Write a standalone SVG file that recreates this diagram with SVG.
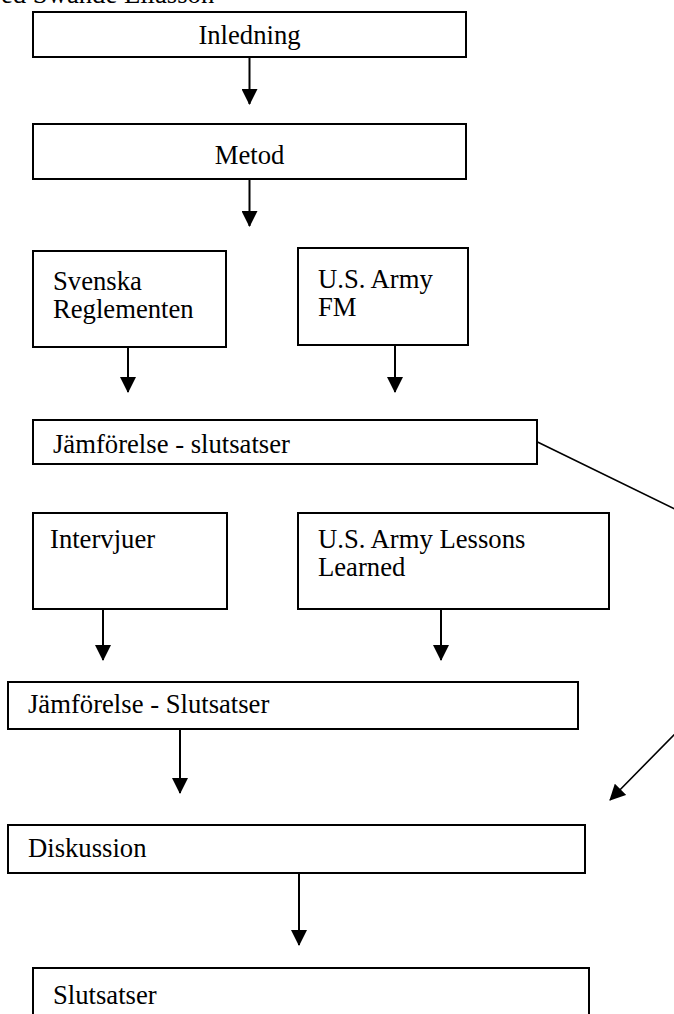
<svg xmlns="http://www.w3.org/2000/svg" width="674" height="1014" viewBox="0 0 674 1014">
<defs>
<marker id="ah" markerUnits="userSpaceOnUse" markerWidth="16" markerHeight="16" refX="15" refY="8" orient="auto" viewBox="0 0 16 16">
<path d="M0,0 L16,8 L0,16 z" fill="#000"/>
</marker>
<style>
.box{fill:#fff;stroke:#000;stroke-width:2}
.t{font-family:"Liberation Serif","Times New Roman",serif;font-size:26.67px;fill:#000}
.c{text-anchor:middle}
.con line,.con polyline{stroke:#000;stroke-width:2;fill:none;marker-end:url(#ah)}
.con .thin{stroke-width:1.6}
</style>
</defs>
<rect width="674" height="1014" fill="#fff"/>
<text class="t" x="1" y="3">ed Swande Eliasson</text>

<g id="inledning"><rect class="box" x="33" y="12" width="433" height="45"/><text class="t c" x="249.5" y="44">Inledning</text></g>
<g id="metod"><rect class="box" x="33" y="124" width="433" height="55"/><text class="t c" x="249.5" y="164">Metod</text></g>
<g id="svenska"><rect class="box" x="33" y="251" width="193" height="96"/><text class="t" x="53" y="290">Svenska</text><text class="t" x="53" y="318">Reglementen</text></g>
<g id="usfm"><rect class="box" x="298" y="248" width="170" height="97"/><text class="t" x="318" y="288">U.S. Army</text><text class="t" x="318" y="316">FM</text></g>
<g id="jamf1"><rect class="box" x="33" y="420" width="504" height="44"/><text class="t" x="53" y="453">Jämförelse - slutsatser</text></g>
<g id="intervjuer"><rect class="box" x="33" y="513" width="194" height="96"/><text class="t" x="50" y="548">Intervjuer</text></g>
<g id="lessons"><rect class="box" x="298" y="513" width="311" height="96"/><text class="t" x="318" y="548">U.S. Army Lessons</text><text class="t" x="318" y="576">Learned</text></g>
<g id="jamf2"><rect class="box" x="8" y="682" width="570" height="47"/><text class="t" x="28" y="713">Jämförelse - Slutsatser</text></g>
<g id="diskussion"><rect class="box" x="8" y="825" width="577" height="48"/><text class="t" x="28" y="857">Diskussion</text></g>
<g id="slutsatser"><rect class="box" x="33" y="968" width="556" height="60"/><text class="t" x="53" y="1004">Slutsatser</text></g>

<g id="connectors" class="con">
<line x1="249.5" y1="57" x2="249.5" y2="104"/>
<line x1="249.5" y1="179" x2="249.5" y2="226"/>
<line x1="128" y1="347" x2="128" y2="392"/>
<line x1="395" y1="345" x2="395" y2="392"/>
<line x1="103" y1="609" x2="103" y2="660"/>
<line x1="441" y1="609" x2="441" y2="660"/>
<line x1="180" y1="729" x2="180" y2="793"/>
<line x1="299" y1="873" x2="299" y2="945"/>
<polyline class="thin" points="537,441.7 824,582 610,800"/>
</g>
</svg>
